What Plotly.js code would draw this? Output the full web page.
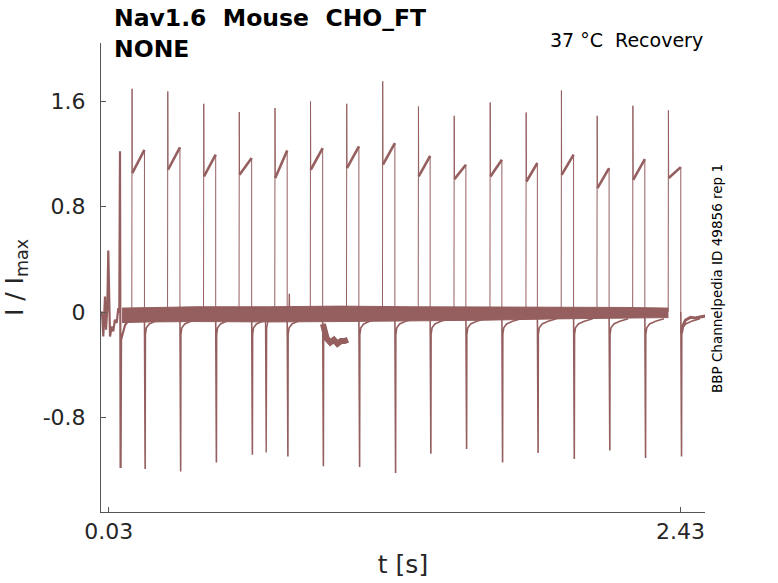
<!DOCTYPE html>
<html>
<head>
<meta charset="utf-8">
<script src="https://cdn.plot.ly/plotly-3.0.1.min.js"></script>
<style>
  html, body { margin: 0; padding: 0; background: #fff; }
  #chart { width: 778px; height: 583px; }
</style>
</head>
<body>
<div id="chart"></div>
<script>
// values
let posT = [0.128, 0.278, 0.429, 0.578, 0.728, 0.877, 1.029, 1.180, 1.330, 1.480, 1.631, 1.782, 1.930, 2.080, 2.230, 2.379];
let posPeak = [1.693, 1.673, 1.579, 1.516, 1.547, 1.597, 1.579, 1.749, 1.559, 1.488, 1.589, 1.513, 1.680, 1.488, 1.564, 1.529];
let platStart = [1.054, 1.079, 1.028, 1.041, 1.016, 1.079, 1.092, 1.117, 1.028, 1.008, 1.028, 0.990, 1.040, 0.940, 1.003, 1.016];
let platEnd = [1.230, 1.248, 1.193, 1.168, 1.225, 1.243, 1.256, 1.281, 1.185, 1.117, 1.155, 1.130, 1.193, 1.092, 1.160, 1.099];
let negT = [0.180, 0.329, 0.479, 0.630, 0.779, 0.928, 1.080, 1.231, 1.379, 1.529, 1.680, 1.829, 1.981, 2.130, 2.280, 2.431];
let negPeak = [-1.190, -1.208, -1.140, -1.082, -1.095, -1.170, -1.175, -1.220, -1.074, -1.039, -1.140, -1.069, -1.115, -1.049, -1.107, -1.095];

// recovery after each negative peak (time after peak, value)
let tailDt = [0.004, 0.008, 0.02, 0.045, 0.08];
let tailVal = [-0.17, -0.12, -0.09, -0.07, -0.05];

// noisy baseline band, upper and lower edge
let bandT = [0.086, 0.2, 0.4, 0.7, 1.0, 1.3, 1.6, 1.9, 2.2, 2.379];
let bandTop = [0.03, 0.035, 0.04, 0.04, 0.045, 0.04, 0.04, 0.035, 0.035, 0.03];
let bandBot = [-0.08, -0.075, -0.072, -0.075, -0.072, -0.068, -0.062, -0.052, -0.045, -0.042];

// start of the record, first pulse and its recovery
let earlyT = [0.0, 0.003, 0.0073, 0.0145, 0.0187, 0.024, 0.0283, 0.0325, 0.0355, 0.0426, 0.0493, 0.056, 0.0636, 0.0703, 0.0745,
              0.0774, 0.0778, 0.0790, 0.0800, 0.082, 0.0985, 0.119];
let earlyI = [0.005, -0.033, -0.185, 0.118, -0.134, 0.017, 0.467, -0.008, -0.185, -0.11, -0.147, -0.058, -0.083, 0.03, -0.005,
              1.22, 1.22, -1.183, -1.183, -0.21, -0.1, -0.05];

// sweep whose tail sags after 0.93 s
let sagT = [0.929, 0.935, 0.945, 0.96, 0.975, 0.99, 1.005, 1.02, 1.034];
let sagI = [-0.09, -0.14, -0.2, -0.23, -0.21, -0.24, -0.22, -0.22, -0.21];

// lone negative peak and small blip
let extraT = [0.688, 0.689, 0.691, 0.693, 0.70, null, 0.787, 0.788, 0.789];
let extraI = [0.0, -1.064, -1.064, -0.12, -0.05, null, 0.0, 0.138, 0.0];

// end of the last sweep
let endT = [2.434, 2.438, 2.451, 2.472, 2.49, 2.514, 2.535];
let endI = [-0.16, -0.11, -0.06, -0.04, -0.045, -0.035, -0.03];

let col = '#955f5f';

// thin up-strokes, thick plateaus, darker down-strokes
let ux = [], uy = [], px = [], py = [], dx = [], dy = [];
posT.forEach((t, k) => {
    ux.push(t - 0.001, t, t + 0.001, null, negT[k], negT[k], null);
    uy.push(0, posPeak[k], platStart[k], null, platEnd[k], 0, null);
    px.push(t + 0.001, negT[k], null);
    py.push(platStart[k], platEnd[k], null);
    dx.push(negT[k], negT[k] + 0.001, negT[k] + 0.003);
    dy.push(0, negPeak[k], negPeak[k]);
    if (k !== 5) {
        tailDt.forEach((d, i) => {
            dx.push(negT[k] + d);
            dy.push(tailVal[i]);
        });
    } else {
        dx.push(negT[k] + 0.004);
        dy.push(-0.1);
    }
    dx.push(null);
    dy.push(null);
});

let lineTrace = (x, y, w) => ({
    x: x, y: y, type: 'scatter', mode: 'lines',
    line: { color: col, width: w }, hoverinfo: 'skip', connectgaps: false
});

let data = [
    { x: bandT, y: bandBot, type: 'scatter', mode: 'lines', line: { color: col, width: 1 }, hoverinfo: 'skip' },
    { x: bandT, y: bandTop, type: 'scatter', mode: 'lines', fill: 'tonexty', fillcolor: col, line: { color: col, width: 1 }, hoverinfo: 'skip' },
    lineTrace(earlyT, earlyI, 2.2),
    lineTrace(ux, uy, 1),
    lineTrace(px, py, 2.6),
    lineTrace(dx, dy, 1.6),
    lineTrace(sagT, sagI, 6),
    lineTrace(extraT, extraI, 1.4),
    lineTrace(endT, endI, 3)
];

let axisCommon = {
    showline: true, linecolor: '#555', linewidth: 1,
    ticks: 'inside', ticklen: 5, tickcolor: '#555',
    showgrid: false, zeroline: false,
    tickfont: { family: 'DejaVu Sans', size: 22, color: '#262626' }
};

let layout = {
    width: 778, height: 583,
    margin: { l: 101, r: 73, t: 43, b: 71 },
    paper_bgcolor: '#fff', plot_bgcolor: '#fff',
    showlegend: false,
    xaxis: Object.assign({}, axisCommon, {
        range: [-0.0023, 2.5325],
        tickvals: [0.03, 2.43], ticktext: ['0.03', '2.43'],
        title: { text: 't [s]', font: { family: 'DejaVu Sans', size: 25, color: '#262626' }, standoff: 12 }
    }),
    yaxis: Object.assign({}, axisCommon, {
        range: [-1.516, 2.04],
        tickvals: [-0.8, 0, 0.8, 1.6], ticktext: ['-0.8', '0', '0.8', '1.6'],
        ticklabelstandoff: 10,
        title: { text: 'I / I<sub>max</sub>', font: { family: 'DejaVu Sans', size: 25, color: '#262626' }, standoff: 12 }
    }),
    annotations: [
        {
            text: '<b>Nav1.6\u00a0\u00a0Mouse\u00a0\u00a0CHO_FT<br>NONE</b>',
            xref: 'paper', yref: 'paper', x: 0.0185, y: 1.0213,
            xanchor: 'left', yanchor: 'middle', align: 'left', showarrow: false,
            font: { family: 'DejaVu Sans', size: 23.5, color: '#000' }
        },
        {
            text: '37 °C\u00a0\u00a0Recovery',
            xref: 'paper', yref: 'paper', x: 1, y: 1.0064,
            xanchor: 'right', yanchor: 'middle', showarrow: false,
            font: { family: 'DejaVu Sans', size: 19, color: '#000' }
        },
        {
            text: 'BBP Channelpedia ID 49856 rep 1',
            xref: 'paper', yref: 'paper', x: 1.0199, y: 0.4968,
            xanchor: 'center', yanchor: 'middle', textangle: -90, showarrow: false,
            font: { family: 'DejaVu Sans', size: 13.5, color: '#000' }
        }
    ]
};

Plotly.newPlot('chart', data, layout, { staticPlot: true });
</script>
</body>
</html>
